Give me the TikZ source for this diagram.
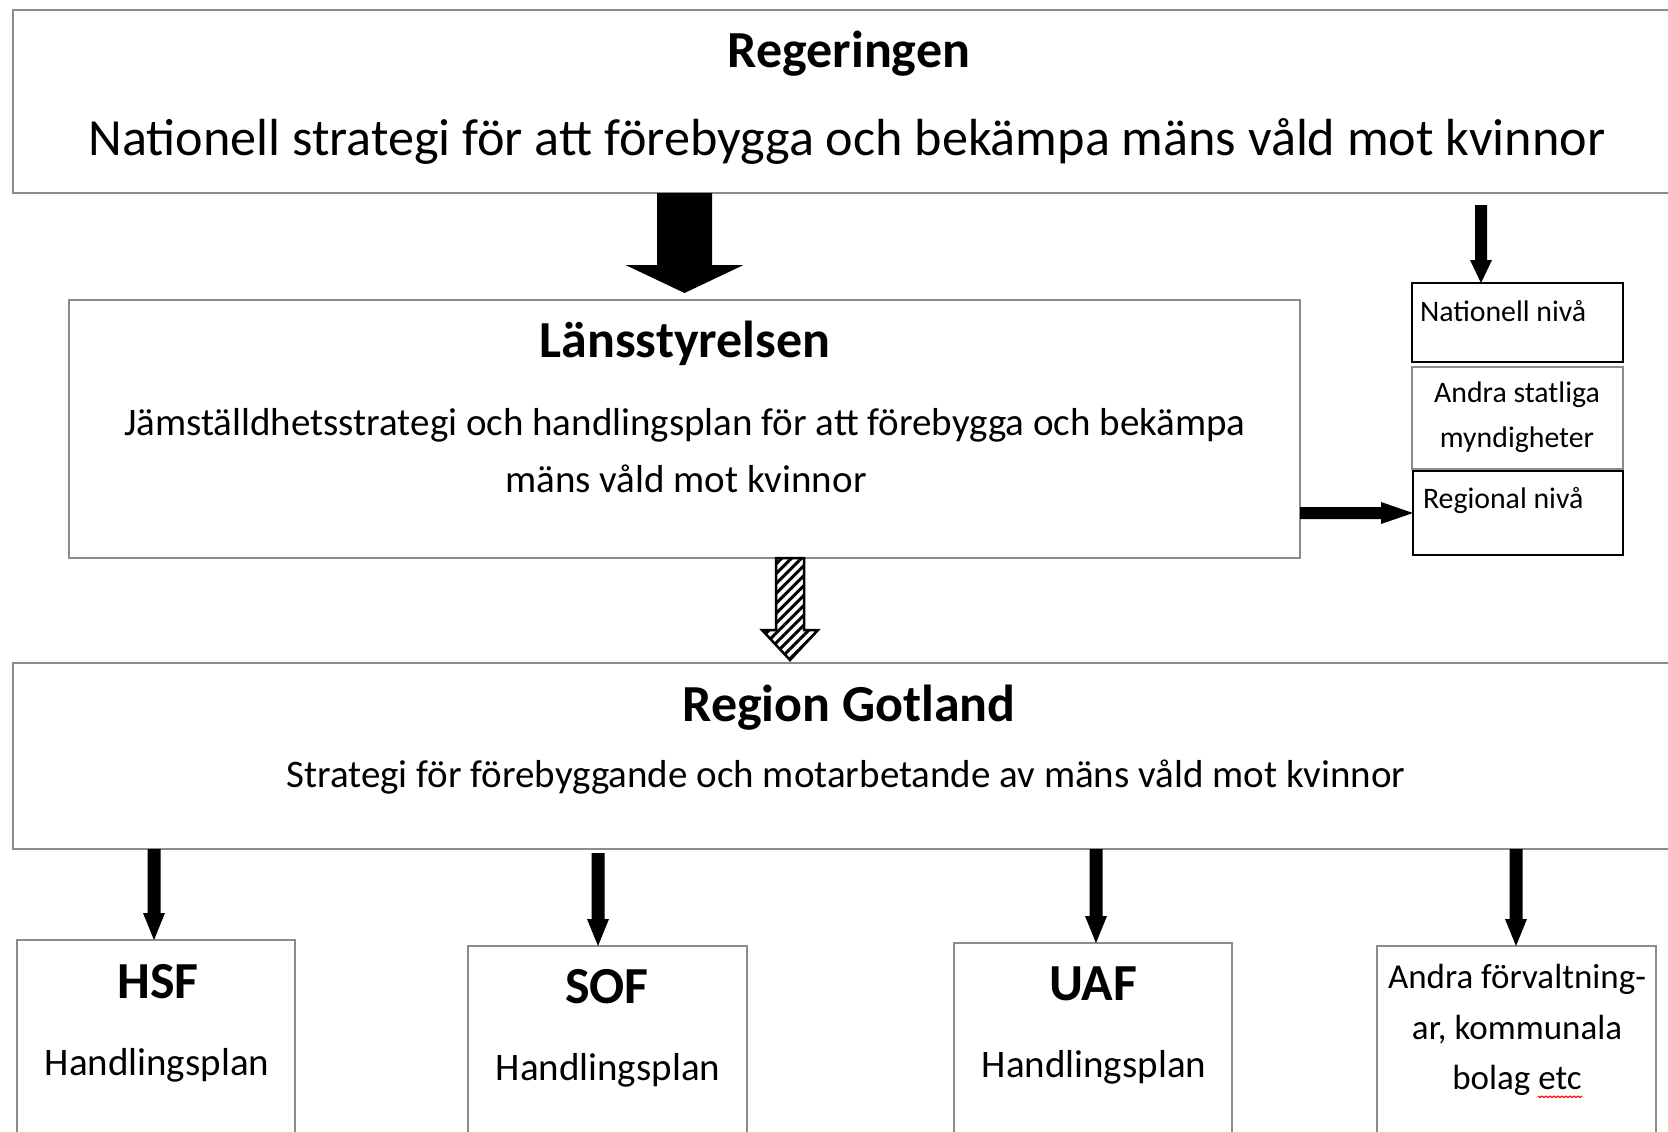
\documentclass[tikz,border=0pt]{standalone}
\usepackage{fontspec}
\setmainfont{Carlito}
\usetikzlibrary{calc,patterns.meta}
\definecolor{boxgray}{gray}{0.55}
% vertical block arrow: #1 top, #2 tip, #3 shaft width, #4 head width, #5 head length, #6 style
\newcommand\vblockarrow[6]{%
  \path[#6] let \p1=(#1), \p2=(#2) in
    ({\x2-0.5*#3pt},\y1) -- ({\x2+0.5*#3pt},\y1) -- ({\x2+0.5*#3pt},{\y2+#5pt})
    -- ({\x2+0.5*#4pt},{\y2+#5pt}) -- (\x2,\y2) -- ({\x2-0.5*#4pt},{\y2+#5pt})
    -- ({\x2-0.5*#3pt},{\y2+#5pt}) -- cycle;}
% horizontal block arrow pointing right: #1 start, #2 tip
\newcommand\hblockarrow[6]{%
  \path[#6] let \p1=(#1), \p2=(#2) in
    (\x1,{\y2-0.5*#3pt}) -- ({\x2-#5pt},{\y2-0.5*#3pt}) -- ({\x2-#5pt},{\y2-0.5*#4pt})
    -- (\x2,\y2) -- ({\x2-#5pt},{\y2+0.5*#4pt}) -- ({\x2-#5pt},{\y2+0.5*#3pt})
    -- (\x1,{\y2+0.5*#3pt}) -- cycle;}
\tikzset{
  frame/.style={draw=boxgray, line width=2pt, inner sep=0pt, outer sep=0pt, rectangle},
  darkframe/.style={draw=black, line width=2.5pt, inner sep=0pt, outer sep=0pt, rectangle},
  txt/.style={inner sep=0pt, outer sep=0pt, anchor=base, text=black},
  titletxt/.style={txt, font=\bfseries\fontsize{52}{60}\selectfont},
  bigtxt/.style={txt, font=\fontsize{52.2}{60}\selectfont},
  bodytxt/.style={txt, font=\fontsize{39}{46}\selectfont},
  othertxt/.style={txt, font=\fontsize{35}{42}\selectfont},
  smalltxt/.style={txt, font=\fontsize{29.8}{36}\selectfont},
  solidarrow/.style={fill=black},
  hatcharrow/.style={preaction={fill=white},
    pattern={Lines[angle=45,distance=7pt,line width=3pt]}, pattern color=black,
    draw=black, line width=2.5pt, line join=miter},
  spellwave/.style={draw=red, line width=1.1pt, line join=round},
}
\begin{document}
\begin{tikzpicture}[x=1pt,y=-1pt]
\useasboundingbox (0,0) rectangle (1668,1132);
\fill[white] (0,0) rectangle (1668,1132);
\clip (0,0) rectangle (1668,1132);

% boxes
\node[frame, minimum width=1677pt, minimum height=183pt] (reg) at (851.5,101.5) {};
\node[frame, minimum width=1231pt, minimum height=258pt] (lans) at (684.5,429) {};
\node[darkframe, minimum width=211pt, minimum height=79pt] (nat) at (1517.5,322.5) {};
\node[frame, minimum width=211pt, minimum height=102pt] (andra) at (1517.5,418) {};
\node[darkframe, minimum width=210pt, minimum height=84pt] (regn) at (1518,513) {};
\node[frame, minimum width=1677pt, minimum height=186pt] (rg) at (851.5,756) {};
\node[frame, minimum width=278pt, minimum height=210pt] (hsf) at (156,1045) {};
\node[frame, minimum width=279pt, minimum height=204pt] (sof) at (607.5,1048) {};
\node[frame, minimum width=278pt, minimum height=207pt] (uaf) at (1093,1046.5) {};
\node[frame, minimum width=279pt, minimum height=204pt] (andf) at (1516.5,1048) {};

% texts
\node[titletxt] (tReg) at (849,67) {Regeringen};
\node[bigtxt] (tNat) at (847,155) {Nationell strategi för att förebygga och bekämpa mäns våld mot kvinnor};
\node[titletxt] (tLans) at (685,357) {Länsstyrelsen};
\node[bodytxt] (tL1) at (685,435) {Jämställdhetsstrategi och handlingsplan för att förebygga och bekämpa};
\node[bodytxt] (tL2) at (686,492) {mäns våld mot kvinnor};
\node[titletxt] (tRg) at (849,721) {Region Gotland};
\node[bodytxt] (tRg2) at (846,787) {Strategi för förebyggande och motarbetande av mäns våld mot kvinnor};
\node[smalltxt, anchor=base west] (tNn) at (1420,321) {Nationell nivå};
\node[smalltxt] (tAs1) at (1517,402) {Andra statliga};
\node[smalltxt] (tAs2) at (1517,447) {myndigheter};
\node[smalltxt, anchor=base west] (tRn) at (1423,508) {Regional nivå};
\node[titletxt] (tHsf) at (158,998) {HSF};
\node[bodytxt] (tHsf2) at (157,1075) {Handlingsplan};
\node[titletxt] (tSof) at (607,1003) {SOF};
\node[bodytxt] (tSof2) at (608,1080) {Handlingsplan};
\node[titletxt] (tUaf) at (1093,1000) {UAF};
\node[bodytxt] (tUaf2) at (1094,1077) {Handlingsplan};
\node[othertxt] (tAf1) at (1517,988) {Andra förvaltning-};
\node[othertxt] (tAf2) at (1517,1039) {ar, kommunala};
\node[othertxt] (tAf3) at (1517,1089) {bolag etc};
\coordinate (wavyL) at (1538,1096);
\draw[spellwave] (wavyL) \foreach \i in {1,...,11} { -- ++(2,1.6) -- ++(2,-1.6) };

% arrows
\coordinate (t1) at ($(lans.north)+(0,-7)$);
\vblockarrow{reg.south -| t1}{t1}{55}{118}{28}{solidarrow}

\coordinate (a2top) at (1481,205);
\coordinate (a2tip) at (nat.north -| a2top);
\vblockarrow{a2top}{a2tip}{12}{22}{23}{solidarrow}

\hblockarrow{lans.east |- regn.west}{regn.west}{12}{22}{32}{solidarrow}

\coordinate (hx) at (790,0);
\coordinate (htip) at ($(rg.north -| hx)+(0,-3)$);
\vblockarrow{lans.south -| hx}{htip}{28}{56}{30}{hatcharrow}

\coordinate (bx1) at (154,0);
\coordinate (bx2) at (598,0);
\coordinate (bx3) at (1096,0);
\coordinate (bx4) at (1516,0);
\coordinate (b2top) at ($(rg.south -| bx2)+(0,4)$);
\vblockarrow{rg.south -| bx1}{hsf.north -| bx1}{13}{22}{27}{solidarrow}
\vblockarrow{b2top}{sof.north -| bx2}{13}{22}{27}{solidarrow}
\vblockarrow{rg.south -| bx3}{uaf.north -| bx3}{13}{22}{27}{solidarrow}
\vblockarrow{rg.south -| bx4}{andf.north -| bx4}{13}{22}{27}{solidarrow}
\end{tikzpicture}
\end{document}
